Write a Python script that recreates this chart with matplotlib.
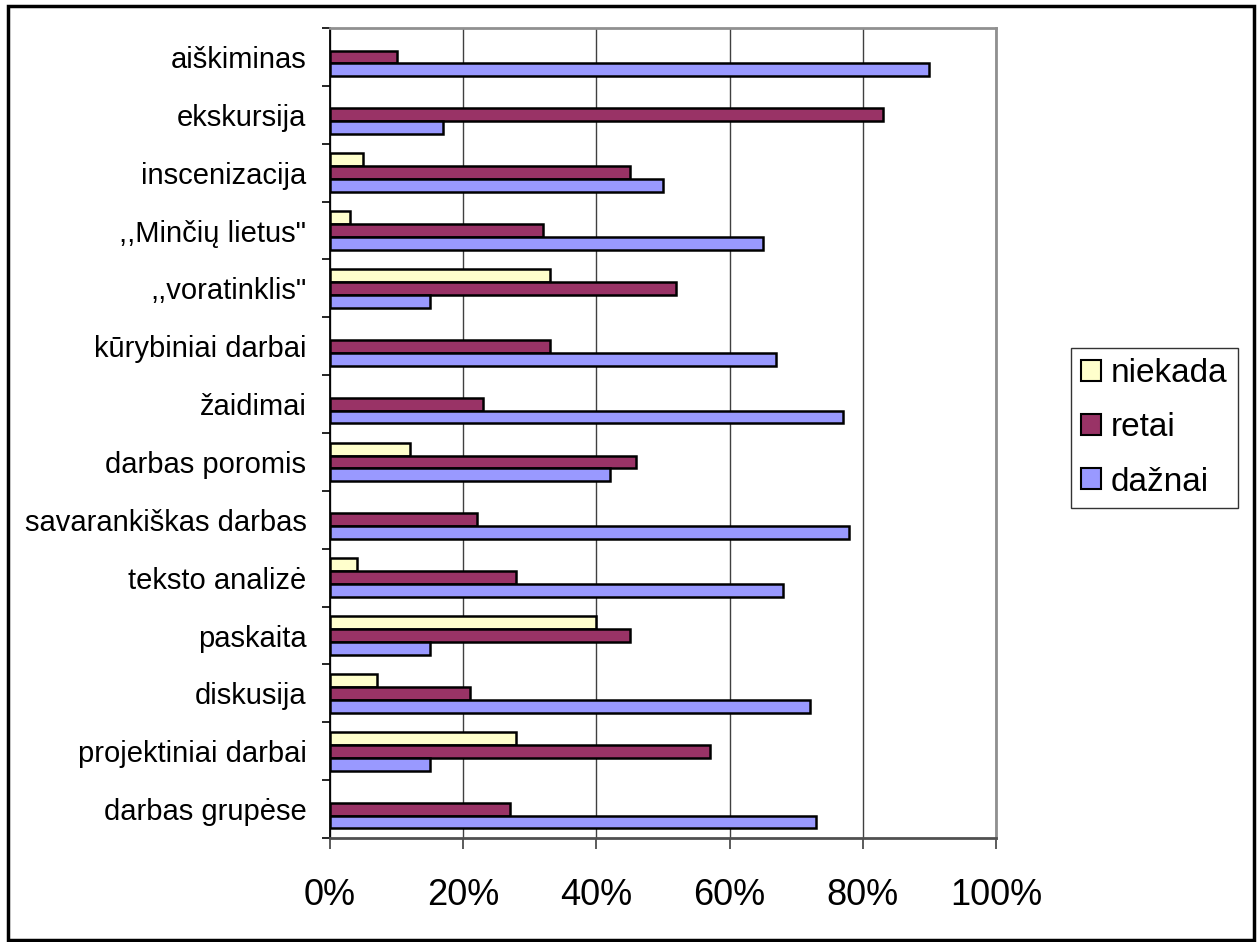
import matplotlib
matplotlib.use("Agg")
import matplotlib.pyplot as plt
from matplotlib.patches import Rectangle, Patch
import numpy as np

plt.rcParams['font.family'] = ['Liberation Sans', 'DejaVu Sans']

categories = ["aiškiminas", "ekskursija", "inscenizacija", ",,Minčių lietus\"",
              ",,voratinklis\"", "kūrybiniai darbai", "žaidimai", "darbas poromis",
              "savarankiškas darbas", "teksto analizė", "paskaita", "diskusija",
              "projektiniai darbai", "darbas grupėse"]
niekada = [0, 0, 5, 3, 33, 0, 0, 12, 0, 4, 40, 7, 28, 0]
retai   = [10, 83, 45, 32, 52, 33, 23, 46, 22, 28, 45, 21, 57, 27]
daznai  = [90, 17, 50, 65, 15, 67, 77, 42, 78, 68, 15, 72, 15, 73]
series_names = ["niekada", "retai", "dažnai"]
colors = ["#FFFFCC", "#993366", "#9999FF"]
xticks = [0, 20, 40, 60, 80, 100]

W, H = 1260, 942
fig = plt.figure(figsize=(W / 100, H / 100), dpi=100)
fig.patch.set_facecolor("white")

# outer border
fig.add_artist(Rectangle((8 / W, 1 - 940 / H), (1254 - 8) / W, (940 - 6) / H,
                         transform=fig.transFigure, fill=False, edgecolor="black",
                         linewidth=2.5))

left, right, top, bottom = 330, 996, 28, 838
ax = fig.add_axes([left / W, 1 - bottom / H, (right - left) / W, (bottom - top) / H])

n = len(categories)
y = np.arange(n)
h = 1 / 1.5 / 3
for i, (vals, name, col) in enumerate(zip([niekada, retai, daznai], series_names, colors)):
    vals = np.array(vals, dtype=float)
    lw = np.where(vals > 0, 1.8, 0.0)
    ax.barh(y + (i - 1) * h, vals, height=h, color=col, edgecolor="black",
            linewidth=lw, zorder=3)

ax.set_xlim(0, 100)
ax.set_ylim(n - 0.5, -0.5)
ax.set_xticks(xticks)
ax.set_xticklabels([f"{v}%" for v in xticks], fontsize=26)
ax.set_yticks(y)
ax.set_yticklabels(categories, fontsize=21)
ax.set_yticks(np.arange(n + 1) - 0.5, minor=True)
ax.tick_params(axis="y", which="major", length=0, pad=17)
ax.tick_params(axis="y", which="minor", length=6, width=1.2, color="black", direction="out")
ax.tick_params(axis="x", which="major", length=8, width=1.2, color="#404040", direction="out", pad=21)

ax.grid(axis="x", color="#404040", linewidth=1.0, zorder=0)
for s in ["top", "right"]:
    ax.spines[s].set_color("#909090")
    ax.spines[s].set_linewidth(2)
ax.spines["left"].set_color("black")
ax.spines["left"].set_linewidth(1.3)
ax.spines["bottom"].set_color("#505050")
ax.spines["bottom"].set_linewidth(2)

handles = [Patch(facecolor=c, edgecolor="black", linewidth=1.5) for c in colors]
leg = fig.legend(handles, series_names, loc="upper left",
                 bbox_to_anchor=(1071 / W, 1 - 348 / H), fontsize=24,
                 frameon=True, fancybox=False, edgecolor="black",
                 handlelength=0.6, handleheight=0.6, handletextpad=0.3,
                 labelspacing=0.7, borderpad=0.3, borderaxespad=0)
leg.get_frame().set_linewidth(1.0)

fig.savefig("out.png", dpi=100, facecolor="white")
